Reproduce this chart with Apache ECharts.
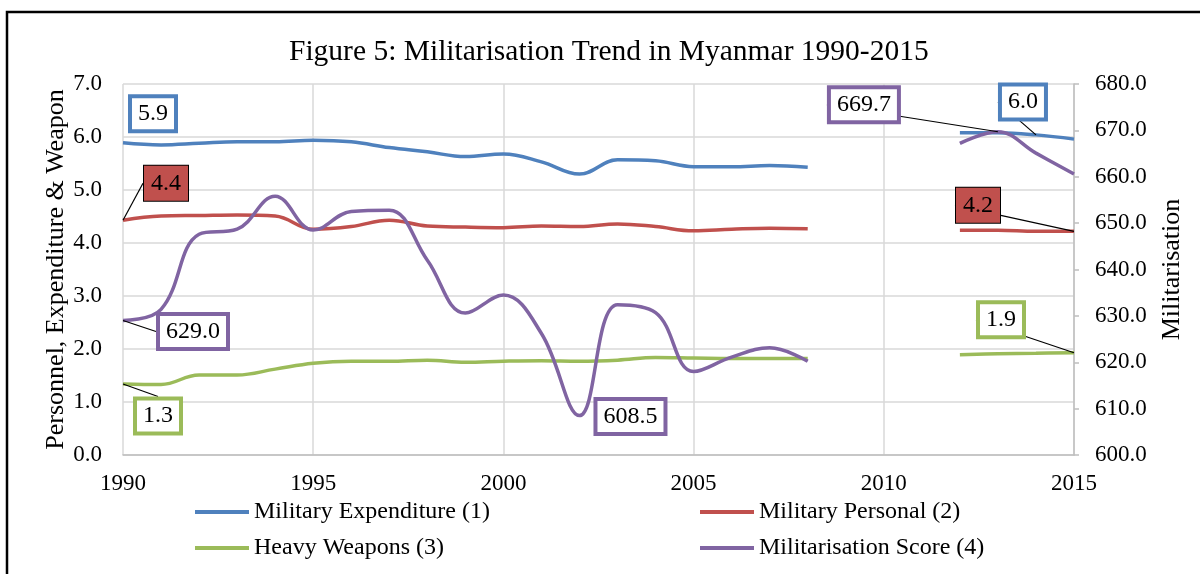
<!DOCTYPE html>
<html>
<head>
<meta charset="utf-8">
<script src="https://cdn.jsdelivr.net/npm/echarts@6/dist/echarts.min.js"></script>
<style>
html,body{margin:0;padding:0;background:#fff;}
#chart{width:1200px;height:574px;}
</style>
</head>
<body>
<div id="chart"></div>
<script>
// ---- data ----
const years = [1990,1991,1992,1993,1994,1995,1996,1997,1998,1999,2000,2001,2002,2003,2004,2005,2006,2007,2008,2009,2010,2011,2012,2013,2014,2015];
const expenditure = [5.89,5.85,5.88,5.91,5.91,5.94,5.91,5.80,5.72,5.63,5.68,5.53,5.30,5.57,5.55,5.44,5.44,5.46,5.43,null,null,null,6.08,6.08,6.04,5.96];
const personnel   = [4.43,4.51,4.52,4.53,4.51,4.26,4.31,4.43,4.32,4.30,4.29,4.32,4.31,4.36,4.31,4.23,4.26,4.28,4.27,null,null,null,4.24,4.24,4.22,4.22];
const weapons     = [1.34,1.33,1.51,1.51,1.62,1.73,1.77,1.77,1.79,1.75,1.77,1.78,1.77,1.79,1.84,1.83,1.82,1.82,1.82,null,null,null,1.89,1.91,1.92,1.93];
const score       = [629.0,631.4,647.6,648.7,655.8,648.5,652.5,652.8,642.0,630.6,634.5,626.2,608.5,632.4,630.7,618.0,621.1,623.1,620.2,null,null,null,667.2,669.7,665.1,660.6];
const leftTicks = [0,1,2,3,4,5,6,7];
const rightTicks = [600,610,620,630,640,650,660,670,680];

// callout label placement (index into years -> [dx, dy, showLeader])
const callouts = {
  exp:   {0:[30,-29,false], 24:[-13,-33,true]},
  pers:  {0:[43,-37,true], 25:[-96,-26,true]},
  weap:  {0:[35,32,true], 25:[-73,-33,true]},
  score: {0:[70,11,true], 12:[51,1,false], 23:[-134,-27,true]}
};

const FONT = '"Liberation Serif","Times New Roman",serif';
const C = {blue:'#4F81BD', red:'#C0504D', green:'#9BBB59', purple:'#8064A2'};

function boxStyle(kind){
  if (kind === 'pers') return {backgroundColor:C.red, borderColor:'#000', borderWidth:1, padding:[6,7,4,7]};
  const col = kind==='exp'?C.blue:kind==='weap'?C.green:C.purple;
  return {backgroundColor:'#fff', borderColor:col, borderWidth:4, padding:[4,6,2,6]};
}

function buildData(vals, key){
  return vals.map((v,i)=>{
    const c = callouts[key][i];
    if (c && v!=null){
      return {
        value:[years[i], v],
        label:Object.assign({show:true, position:'inside', color:'#000', fontFamily:FONT, fontSize:24, lineHeight:25,
          formatter:(p)=>p.value[1].toFixed(1)}, boxStyle(key)),
        labelLine:{show:c[2], lineStyle:{color:'#000', width:1.2}}
      };
    }
    return [years[i], v];
  });
}

function mkSeries(name, key, vals, color, yIdx){
  return {
    name:name, type:'line', yAxisIndex:yIdx, smooth:0.4, connectNulls:false,
    symbol:'circle', symbolSize:0, showSymbol:true,
    lineStyle:{color:color, width:3.5}, itemStyle:{color:color},
    data:buildData(vals, key),
    labelLayout:function(p){
      const c = callouts[key][p.dataIndex];
      return c ? {dx:c[0], dy:c[1]} : {};
    },
    emphasis:{disabled:true}, z: key==='score'?3:2
  };
}

const chart = echarts.init(document.getElementById('chart'), null, {renderer:'canvas'});
const axisLabelStyle = {color:'#000', fontFamily:FONT, fontSize:23};
const legendText = {fontFamily:FONT, fontSize:24, color:'#000'};
chart.setOption({
  animation:false,
  backgroundColor:'#fff',
  title:{text:'Figure 5: Militarisation Trend in Myanmar 1990-2015', left:284, top:32,
    textStyle:{fontFamily:FONT, fontSize:29.5, fontWeight:'normal', color:'#000'}},
  graphic:[{type:'rect', shape:{x:7, y:12, width:1200, height:600}, style:{fill:'none', stroke:'#000', lineWidth:2.5}, silent:true}],
  grid:{left:123, right:126, top:84, bottom:119},
  legend:[
    {data:['Military Expenditure (1)','Heavy Weapons (3)'], orient:'vertical', left:195, top:500, padding:0, itemWidth:54, itemHeight:4, itemGap:12, icon:'rect',
      textStyle:legendText},
    {data:['Military Personal (2)','Militarisation Score (4)'], orient:'vertical', left:700, top:500, padding:0, itemWidth:54, itemHeight:4, itemGap:12, icon:'rect',
      textStyle:legendText}
  ],
  xAxis:{type:'value', min:1990, max:2015, interval:5,
    axisLine:{show:true, lineStyle:{color:'#BFBFBF', width:1.5}}, axisTick:{show:false},
    splitLine:{show:true, lineStyle:{color:'#D9D9D9', width:1.5}},
    axisLabel:Object.assign({margin:17, formatter:(v)=>String(v)}, axisLabelStyle)},
  yAxis:[
    {type:'value', min:leftTicks[0], max:leftTicks[leftTicks.length-1], interval:1, position:'left',
      name:'Personnel, Expenditure & Weapon', nameLocation:'middle', nameGap:54, nameMoveOverlap:false,
      nameTextStyle:{fontFamily:FONT, fontSize:26, color:'#000'},
      axisLine:{show:false}, axisTick:{show:false},
      splitLine:{show:true, lineStyle:{color:'#D9D9D9', width:1.5}},
      axisLabel:Object.assign({margin:21, formatter:(v)=>v.toFixed(1)}, axisLabelStyle)},
    {type:'value', min:rightTicks[0], max:rightTicks[rightTicks.length-1], interval:10, position:'right',
      name:'Militarisation', nameLocation:'middle', nameGap:85, nameRotate:90, nameMoveOverlap:false,
      nameTextStyle:{fontFamily:FONT, fontSize:26, color:'#000'},
      axisLine:{show:true, lineStyle:{color:'#BFBFBF', width:1.5}},
      axisTick:{show:true, length:5, lineStyle:{color:'#BFBFBF', width:1.5}},
      splitLine:{show:false},
      axisLabel:Object.assign({margin:21, formatter:(v)=>v.toFixed(1)}, axisLabelStyle)}
  ],
  series:[
    mkSeries('Military Expenditure (1)','exp',expenditure,C.blue,0),
    mkSeries('Military Personal (2)','pers',personnel,C.red,0),
    mkSeries('Heavy Weapons (3)','weap',weapons,C.green,0),
    mkSeries('Militarisation Score (4)','score',score,C.purple,1)
  ]
});
</script>
</body>
</html>
